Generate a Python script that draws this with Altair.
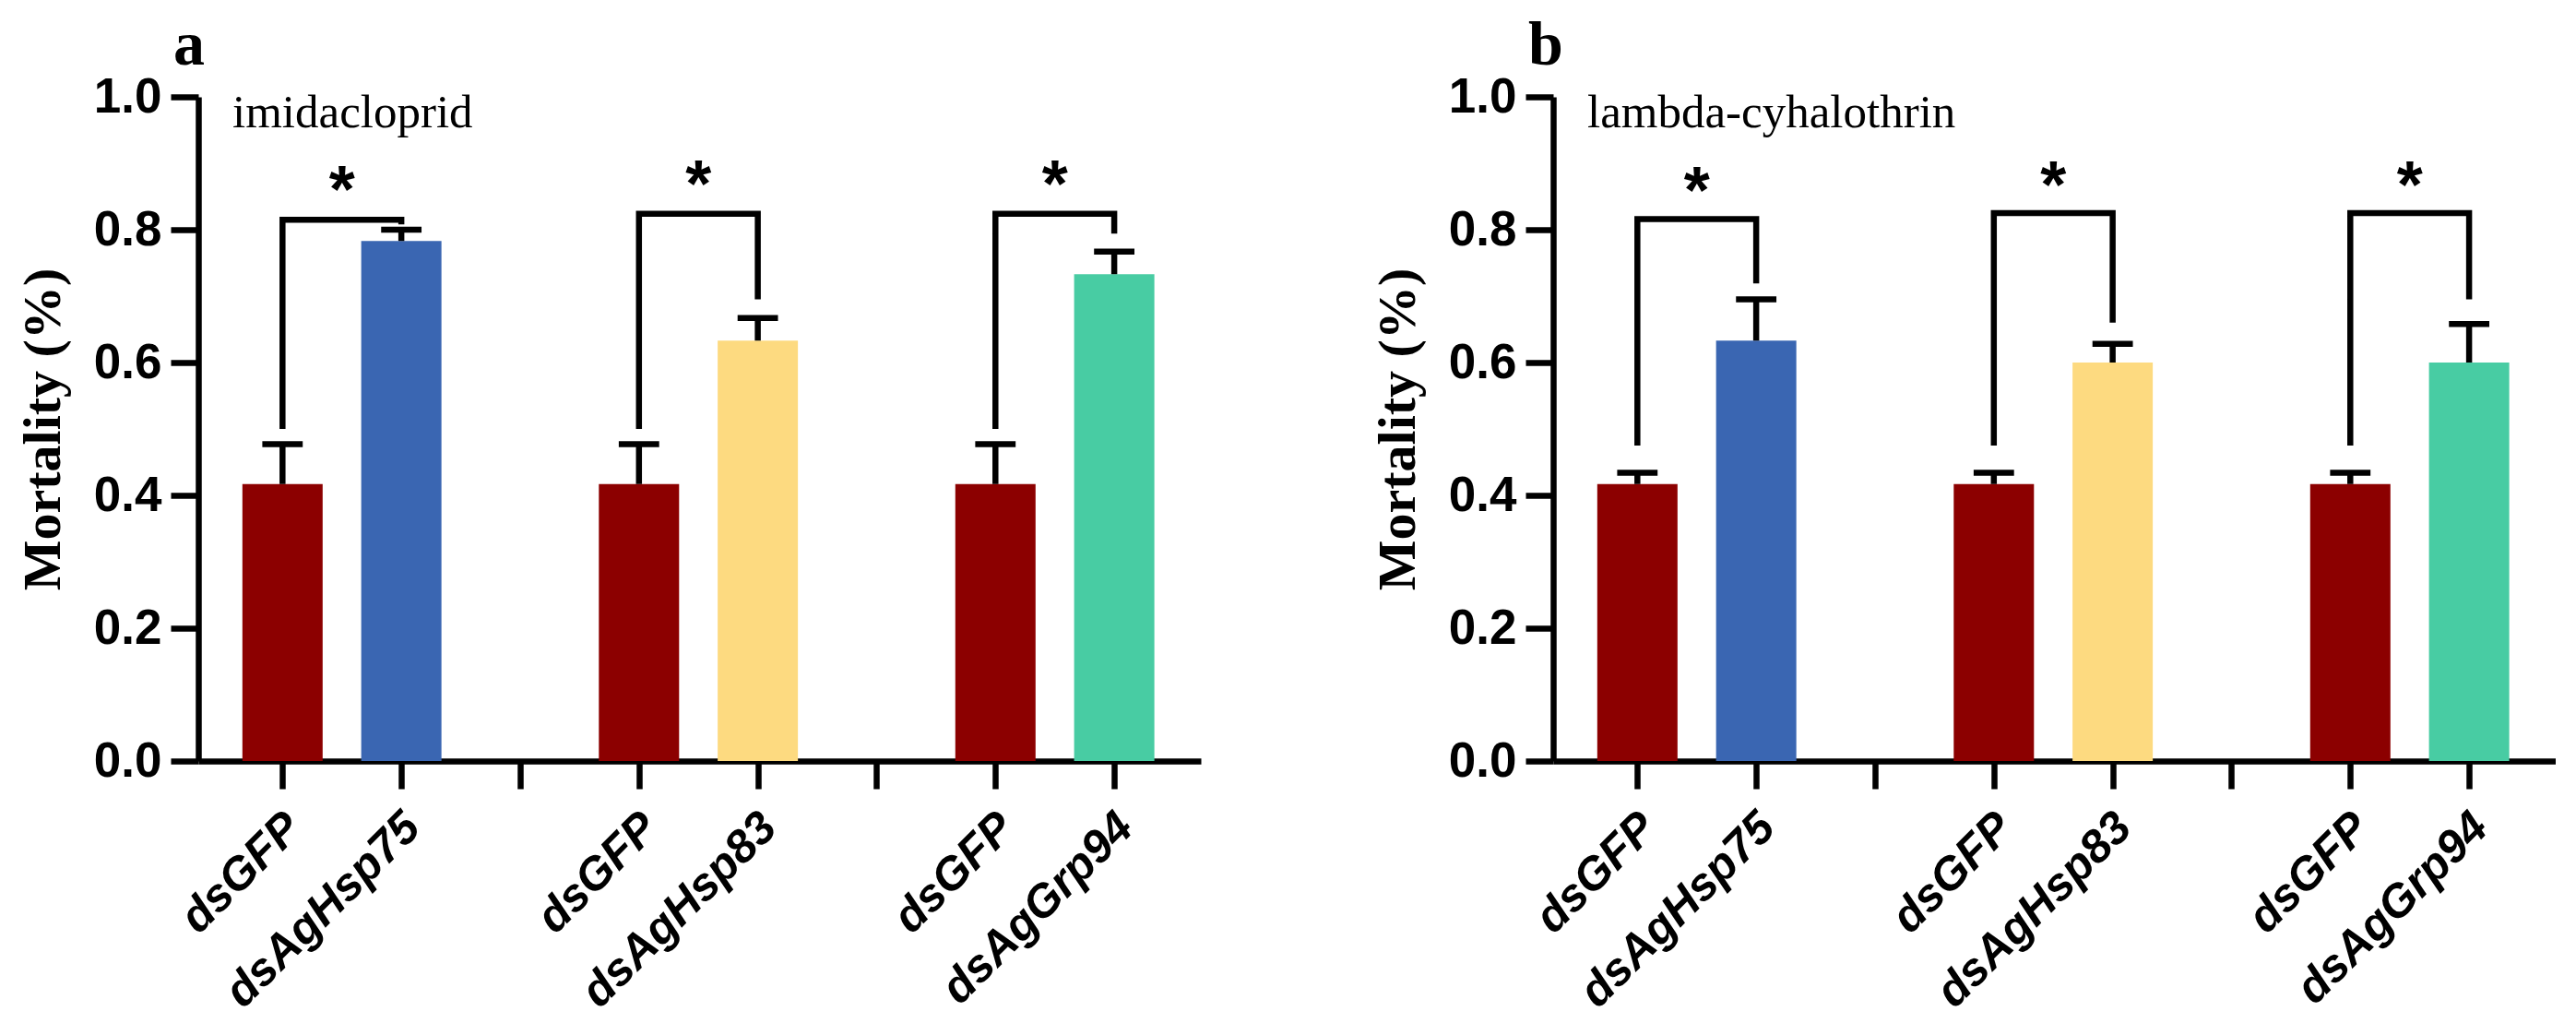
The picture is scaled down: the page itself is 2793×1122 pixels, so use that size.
import altair as alt
import pandas as pd

# ---------------- data ----------------
bar_slots = [0, 1, 3, 4, 6, 7]
bar_names = ["dsGFP", "dsAgHsp75", "dsGFP", "dsAgHsp83", "dsGFP", "dsAgGrp94"]
tick_slots = [0, 1, 2, 3, 4, 5, 6, 7]
tick_labels = ["dsGFP", "dsAgHsp75", "", "dsGFP", "dsAgHsp83", "", "dsGFP", "dsAgGrp94"]
y_ticks = [0.0, 0.2, 0.4, 0.6, 0.8, 1.0]

imid_mean = [0.417, 0.783, 0.417, 0.633, 0.417, 0.733]
imid_upper = [0.477, 0.800, 0.477, 0.667, 0.477, 0.767]
lambda_mean = [0.417, 0.633, 0.417, 0.600, 0.417, 0.600]
lambda_upper = [0.434, 0.695, 0.434, 0.628, 0.434, 0.658]

bracket_left = [0, 3, 6]
bracket_right = [1, 4, 7]
imid_left_bottom = [0.500, 0.500, 0.500]
imid_top = [0.815, 0.824, 0.824]
imid_right_bottom = [0.808, 0.695, 0.794]
imid_star = [0.879, 0.888, 0.888]
lambda_left_bottom = [0.475, 0.475, 0.475]
lambda_top = [0.816, 0.825, 0.825]
lambda_right_bottom = [0.719, 0.660, 0.695]
lambda_star = [0.878, 0.886, 0.886]

color_domain = ["dsGFP", "dsAgHsp75", "dsAgHsp83", "dsAgGrp94"]
color_range = ["#8C0000", "#3A66B2", "#FDDA80", "#48CCA3"]

SANS = "Liberation Sans"
SERIF = "Liberation Serif"
LW = 6.5

label_expr = "[" + ",".join("'%s'" % t for t in tick_labels) + "][datum.value]"

xscale = alt.Scale(domain=[-0.67, 7.69], nice=False, zero=False)
yscale = alt.Scale(domain=[0, 1], nice=False)

x_axis = alt.Axis(values=tick_slots, labelExpr=label_expr, title=None, grid=False,
                  domainWidth=LW, tickWidth=LW, tickSize=30, domainColor="black",
                  tickColor="black", labelAngle=-45, labelAlign="right",
                  labelBaseline="middle", labelPadding=34, labelOffset=12,
                  labelFont=SANS, labelFontSize=50, labelFontWeight="bold",
                  labelFontStyle="italic", labelColor="black", labelOverlap=False,
                  labelLimit=0)
y_axis = alt.Axis(values=y_ticks, format=".1f", title="Mortality (%)", grid=False,
                  domainWidth=LW, tickWidth=LW, tickSize=30, domainColor="black",
                  tickColor="black", labelPadding=10, labelFont=SANS,
                  labelFontSize=53, labelFontWeight="bold", labelColor="black",
                  titleFont=SERIF, titleFontSize=58, titleFontWeight="bold",
                  titleColor="black", titlePadding=25, labelOverlap=False)


def panel(letter, treatment, mean, upper, lb, top, rb, star):
    bars = pd.DataFrame({"slot": bar_slots, "name": bar_names, "mean": mean, "upper": upper})
    pts = []
    for i in range(len(bracket_left)):
        pts += [
            {"id": i, "ord": 0, "bx": bracket_left[i], "by": lb[i]},
            {"id": i, "ord": 1, "bx": bracket_left[i], "by": top[i]},
            {"id": i, "ord": 2, "bx": bracket_right[i], "by": top[i]},
            {"id": i, "ord": 3, "bx": bracket_right[i], "by": rb[i]},
        ]
    brk = pd.DataFrame(pts)
    stars = pd.DataFrame({
        "sx": [(a + b) / 2 for a, b in zip(bracket_left, bracket_right)],
        "sy": star,
        "t": ["*"] * len(star),
    })

    base = alt.Chart(bars)
    bar = base.mark_bar(size=87).encode(
        x=alt.X("slot:Q", scale=xscale, axis=x_axis),
        y=alt.Y("mean:Q", scale=yscale, axis=y_axis),
        color=alt.Color("name:N", scale=alt.Scale(domain=color_domain, range=color_range), legend=None),
    )
    err = base.mark_rule(color="black", strokeWidth=LW).encode(
        x=alt.X("slot:Q", scale=xscale, axis=x_axis),
        y=alt.Y("mean:Q", scale=yscale, axis=y_axis),
        y2="upper:Q",
    )
    cap = base.transform_calculate(
        c1="datum.slot - 0.17", c2="datum.slot + 0.17"
    ).mark_rule(color="black", strokeWidth=LW).encode(
        x=alt.X("c1:Q", scale=xscale, axis=x_axis),
        x2="c2:Q",
        y=alt.Y("upper:Q", scale=yscale, axis=y_axis),
    )
    bracket = alt.Chart(brk).mark_line(color="black", strokeWidth=LW, strokeJoin="miter",
                                       strokeCap="butt").encode(
        x=alt.X("bx:Q", scale=xscale, axis=x_axis),
        y=alt.Y("by:Q", scale=yscale, axis=y_axis),
        detail="id:N",
        order="ord:Q",
    )
    star_t = alt.Chart(stars).mark_text(font=SANS, fontSize=72, fontWeight="bold",
                                        baseline="middle", dy=16, color="black").encode(
        x=alt.X("sx:Q", scale=xscale, axis=x_axis),
        y=alt.Y("sy:Q", scale=yscale, axis=y_axis),
        text="t:N",
    )
    treat = alt.Chart(pd.DataFrame({"t": [treatment]})).mark_text(
        font=SERIF, fontSize=51, align="left", baseline="alphabetic", color="black"
    ).encode(x=alt.value(37), y=alt.value(33), text="t:N")
    let = alt.Chart(pd.DataFrame({"t": [letter]})).mark_text(
        font=SERIF, fontSize=68, fontWeight="bold", align="left", baseline="alphabetic",
        color="black"
    ).encode(x=alt.value(-27), y=alt.value(-35), text="t:N")

    return alt.layer(bar, err, cap, bracket, star_t, treat, let).properties(
        width=1087, height=720,
    )


a = panel("a", "imidacloprid", imid_mean, imid_upper, imid_left_bottom, imid_top,
          imid_right_bottom, imid_star)
b = panel("b", "lambda-cyhalothrin", lambda_mean, lambda_upper, lambda_left_bottom,
          lambda_top, lambda_right_bottom, lambda_star)

chart = alt.hconcat(a, b, spacing=185).properties(
    padding={"left": 10, "top": 8, "right": 0, "bottom": 0},
    background="white",
).configure_view(strokeWidth=0)

chart.save("out.html", embed_options={"renderer": "svg", "actions": False})
